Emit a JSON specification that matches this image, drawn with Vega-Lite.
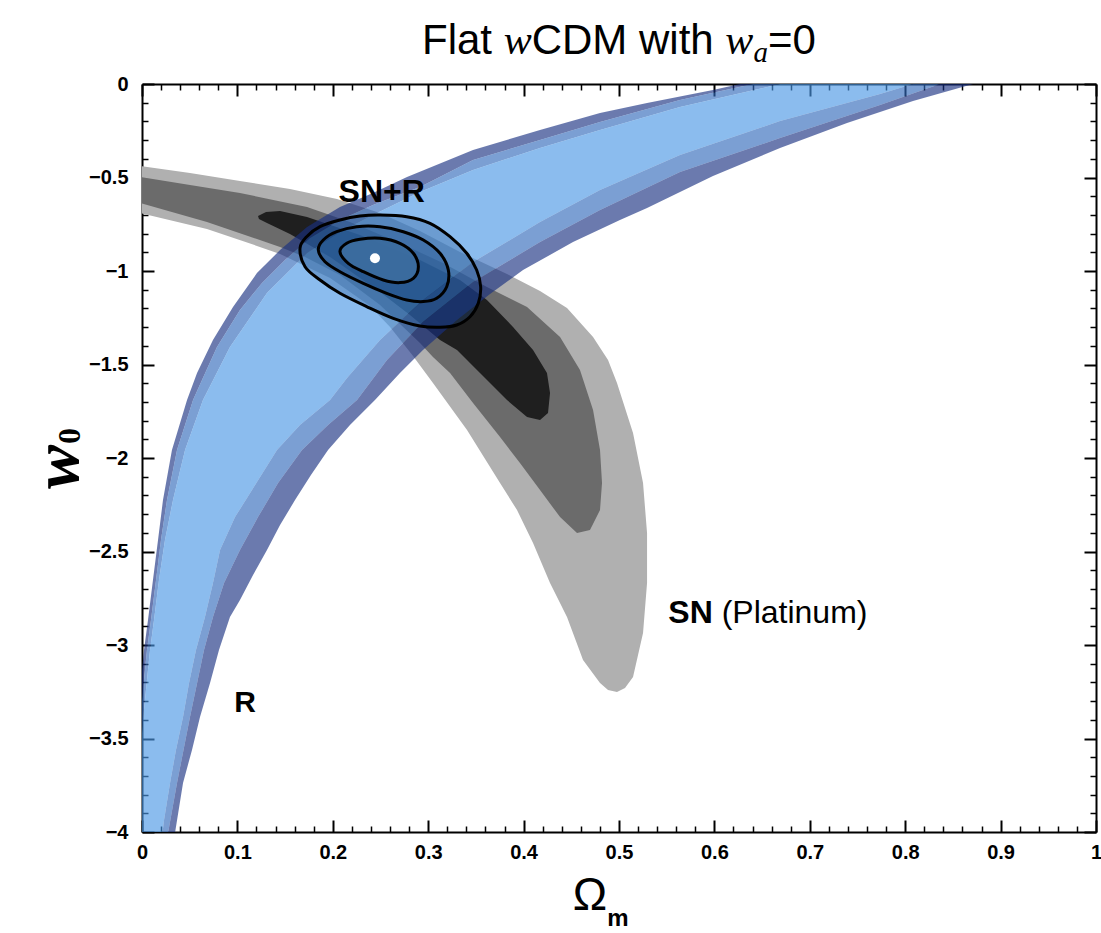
{
"$schema": "https://vega.github.io/schema/vega-lite/v6.json",
"width": 954, "height": 748,
"autosize": {"type": "none"},
"padding": {"left": 142, "top": 84, "right": 5, "bottom": 101},
"background": "white",
"config": {
  "view": {"stroke": null, "fill": "white"},
  "axis": {"zindex": 1, "grid": false, "domain": false, "labelFont": "Liberation Sans", "labelFontSize": 20, "labelFontWeight": "bold", "labelColor": "black", "tickColor": "black", "labelFlush": false, "labelOverlap": false, "labelBound": false, "title": null}
},
"datasets": {
"SN3": [{"o":1,"x":-0.0178,"y":-0.433},{"o":2,"x":-0.0021,"y":-0.439},{"o":3,"x":0.0503,"y":-0.476},{"o":4,"x":0.1027,"y":-0.519},{"o":5,"x":0.1551,"y":-0.561},{"o":6,"x":0.2044,"y":-0.615},{"o":7,"x":0.2495,"y":-0.690},{"o":8,"x":0.2914,"y":-0.786},{"o":9,"x":0.3333,"y":-0.898},{"o":10,"x":0.3826,"y":-1.016},{"o":11,"x":0.4172,"y":-1.107},{"o":12,"x":0.4455,"y":-1.198},{"o":13,"x":0.4728,"y":-1.353},{"o":14,"x":0.4885,"y":-1.476},{"o":15,"x":0.4979,"y":-1.599},{"o":16,"x":0.5147,"y":-1.866},{"o":17,"x":0.5252,"y":-2.134},{"o":18,"x":0.5294,"y":-2.401},{"o":19,"x":0.5294,"y":-2.668},{"o":20,"x":0.5252,"y":-2.936},{"o":21,"x":0.5147,"y":-3.171},{"o":22,"x":0.5063,"y":-3.230},{"o":23,"x":0.4979,"y":-3.251},{"o":24,"x":0.4885,"y":-3.241},{"o":25,"x":0.4801,"y":-3.203},{"o":26,"x":0.4623,"y":-3.080},{"o":27,"x":0.4455,"y":-2.850},{"o":28,"x":0.4277,"y":-2.668},{"o":29,"x":0.4099,"y":-2.455},{"o":30,"x":0.3931,"y":-2.278},{"o":31,"x":0.3753,"y":-2.134},{"o":32,"x":0.3407,"y":-1.850},{"o":33,"x":0.3050,"y":-1.599},{"o":34,"x":0.2841,"y":-1.455},{"o":35,"x":0.2600,"y":-1.299},{"o":36,"x":0.2390,"y":-1.187},{"o":37,"x":0.1971,"y":-1.037},{"o":38,"x":0.1447,"y":-0.909},{"o":39,"x":0.1205,"y":-0.866},{"o":40,"x":0.0681,"y":-0.775},{"o":41,"x":-0.0021,"y":-0.690},{"o":42,"x":-0.0178,"y":-0.684}],
"SN2": [{"o":1,"x":-0.0178,"y":-0.492},{"o":2,"x":-0.0021,"y":-0.497},{"o":3,"x":0.0503,"y":-0.540},{"o":4,"x":0.1027,"y":-0.583},{"o":5,"x":0.1730,"y":-0.658},{"o":6,"x":0.2180,"y":-0.738},{"o":7,"x":0.2704,"y":-0.850},{"o":8,"x":0.3176,"y":-0.963},{"o":9,"x":0.3616,"y":-1.086},{"o":10,"x":0.4036,"y":-1.193},{"o":11,"x":0.4382,"y":-1.353},{"o":12,"x":0.4591,"y":-1.529},{"o":13,"x":0.4728,"y":-1.743},{"o":14,"x":0.4801,"y":-1.957},{"o":15,"x":0.4822,"y":-2.134},{"o":16,"x":0.4801,"y":-2.278},{"o":17,"x":0.4696,"y":-2.385},{"o":18,"x":0.4560,"y":-2.401},{"o":19,"x":0.4382,"y":-2.316},{"o":20,"x":0.4172,"y":-2.171},{"o":21,"x":0.3962,"y":-2.027},{"o":22,"x":0.3753,"y":-1.888},{"o":23,"x":0.3470,"y":-1.706},{"o":24,"x":0.3229,"y":-1.545},{"o":25,"x":0.3050,"y":-1.460},{"o":26,"x":0.2914,"y":-1.385},{"o":27,"x":0.2495,"y":-1.182},{"o":28,"x":0.2075,"y":-1.021},{"o":29,"x":0.1709,"y":-0.925},{"o":30,"x":0.1447,"y":-0.872},{"o":31,"x":0.1205,"y":-0.829},{"o":32,"x":0.0681,"y":-0.738},{"o":33,"x":-0.0021,"y":-0.636},{"o":34,"x":-0.0178,"y":-0.631}],
"SN1": [{"o":1,"x":0.1216,"y":-0.706},{"o":2,"x":0.1300,"y":-0.684},{"o":3,"x":0.1447,"y":-0.679},{"o":4,"x":0.1730,"y":-0.711},{"o":5,"x":0.2285,"y":-0.807},{"o":6,"x":0.2914,"y":-0.941},{"o":7,"x":0.3333,"y":-1.048},{"o":8,"x":0.3616,"y":-1.155},{"o":9,"x":0.3889,"y":-1.299},{"o":10,"x":0.4099,"y":-1.422},{"o":11,"x":0.4245,"y":-1.545},{"o":12,"x":0.4277,"y":-1.652},{"o":13,"x":0.4256,"y":-1.759},{"o":14,"x":0.4172,"y":-1.797},{"o":15,"x":0.4036,"y":-1.781},{"o":16,"x":0.3826,"y":-1.690},{"o":17,"x":0.3543,"y":-1.545},{"o":18,"x":0.3302,"y":-1.422},{"o":19,"x":0.3124,"y":-1.369},{"o":20,"x":0.2809,"y":-1.235},{"o":21,"x":0.2495,"y":-1.112},{"o":22,"x":0.1971,"y":-0.925},{"o":23,"x":0.1551,"y":-0.802},{"o":24,"x":0.1310,"y":-0.743},{"o":25,"x":0.1226,"y":-0.722}],
"S3u": [{"o":1,"x":-0.0189,"y":-4.070},{"o":2,"x":-0.0147,"y":-3.829},{"o":3,"x":-0.0105,"y":-3.615},{"o":4,"x":-0.0052,"y":-3.401},{"o":5,"x":-0.0010,"y":-3.187},{"o":6,"x":0.0021,"y":-3.027},{"o":7,"x":0.0063,"y":-2.866},{"o":8,"x":0.0115,"y":-2.652},{"o":9,"x":0.0168,"y":-2.439},{"o":10,"x":0.0220,"y":-2.225},{"o":11,"x":0.0314,"y":-1.957},{"o":12,"x":0.0472,"y":-1.690},{"o":13,"x":0.0577,"y":-1.545},{"o":14,"x":0.0744,"y":-1.369},{"o":15,"x":0.0954,"y":-1.193},{"o":16,"x":0.1205,"y":-1.011},{"o":17,"x":0.1447,"y":-0.888},{"o":18,"x":0.1730,"y":-0.765},{"o":19,"x":0.2075,"y":-0.658},{"o":20,"x":0.2421,"y":-0.583},{"o":21,"x":0.2778,"y":-0.497},{"o":22,"x":0.3470,"y":-0.353},{"o":23,"x":0.4172,"y":-0.246},{"o":24,"x":0.4801,"y":-0.155},{"o":25,"x":0.5294,"y":-0.102},{"o":26,"x":0.5985,"y":-0.032},{"o":27,"x":0.6268,"y":0},{"o":28,"x":0.6646,"y":0.043},{"o":29,"x":0.6740,"y":0.043},{"o":30,"x":0.6405,"y":0},{"o":31,"x":0.5639,"y":-0.086},{"o":32,"x":0.4801,"y":-0.203},{"o":33,"x":0.4172,"y":-0.299},{"o":34,"x":0.3470,"y":-0.406},{"o":35,"x":0.2914,"y":-0.551},{"o":36,"x":0.2421,"y":-0.647},{"o":37,"x":0.2075,"y":-0.727},{"o":38,"x":0.1761,"y":-0.824},{"o":39,"x":0.1499,"y":-0.941},{"o":40,"x":0.1258,"y":-1.064},{"o":41,"x":0.1027,"y":-1.209},{"o":42,"x":0.0786,"y":-1.406},{"o":43,"x":0.0629,"y":-1.583},{"o":44,"x":0.0535,"y":-1.690},{"o":45,"x":0.0367,"y":-1.957},{"o":46,"x":0.0262,"y":-2.225},{"o":47,"x":0.0199,"y":-2.439},{"o":48,"x":0.0147,"y":-2.652},{"o":49,"x":0.0094,"y":-2.866},{"o":50,"x":0.0052,"y":-3.027},{"o":51,"x":0.0021,"y":-3.187},{"o":52,"x":-0.0021,"y":-3.401},{"o":53,"x":-0.0063,"y":-3.615},{"o":54,"x":-0.0105,"y":-3.829},{"o":55,"x":-0.0147,"y":-4.070}],
"S2u": [{"o":1,"x":-0.0147,"y":-4.070},{"o":2,"x":-0.0105,"y":-3.829},{"o":3,"x":-0.0063,"y":-3.615},{"o":4,"x":-0.0021,"y":-3.401},{"o":5,"x":0.0021,"y":-3.187},{"o":6,"x":0.0052,"y":-3.027},{"o":7,"x":0.0094,"y":-2.866},{"o":8,"x":0.0147,"y":-2.652},{"o":9,"x":0.0199,"y":-2.439},{"o":10,"x":0.0262,"y":-2.225},{"o":11,"x":0.0367,"y":-1.957},{"o":12,"x":0.0535,"y":-1.690},{"o":13,"x":0.0629,"y":-1.583},{"o":14,"x":0.0786,"y":-1.406},{"o":15,"x":0.1027,"y":-1.209},{"o":16,"x":0.1258,"y":-1.064},{"o":17,"x":0.1499,"y":-0.941},{"o":18,"x":0.1761,"y":-0.824},{"o":19,"x":0.2075,"y":-0.727},{"o":20,"x":0.2421,"y":-0.647},{"o":21,"x":0.2914,"y":-0.551},{"o":22,"x":0.3470,"y":-0.406},{"o":23,"x":0.4172,"y":-0.299},{"o":24,"x":0.4801,"y":-0.203},{"o":25,"x":0.5639,"y":-0.086},{"o":26,"x":0.6405,"y":0},{"o":27,"x":0.6740,"y":0.043},{"o":28,"x":0.7023,"y":0.043},{"o":29,"x":0.6688,"y":0},{"o":30,"x":0.5639,"y":-0.123},{"o":31,"x":0.4801,"y":-0.246},{"o":32,"x":0.4172,"y":-0.342},{"o":33,"x":0.3470,"y":-0.460},{"o":34,"x":0.2914,"y":-0.578},{"o":35,"x":0.2421,"y":-0.701},{"o":36,"x":0.2075,"y":-0.791},{"o":37,"x":0.1730,"y":-0.904},{"o":38,"x":0.1310,"y":-1.118},{"o":39,"x":0.0922,"y":-1.406},{"o":40,"x":0.0639,"y":-1.690},{"o":41,"x":0.0451,"y":-1.957},{"o":42,"x":0.0325,"y":-2.225},{"o":43,"x":0.0241,"y":-2.439},{"o":44,"x":0.0178,"y":-2.652},{"o":45,"x":0.0126,"y":-2.866},{"o":46,"x":0.0084,"y":-3.027},{"o":47,"x":0.0052,"y":-3.187},{"o":48,"x":0.0010,"y":-3.401},{"o":49,"x":-0.0021,"y":-3.615},{"o":50,"x":-0.0063,"y":-3.829},{"o":51,"x":-0.0105,"y":-4.070}],
"S1": [{"o":1,"x":-0.0105,"y":-4.070},{"o":2,"x":-0.0063,"y":-3.829},{"o":3,"x":-0.0021,"y":-3.615},{"o":4,"x":0.0010,"y":-3.401},{"o":5,"x":0.0052,"y":-3.187},{"o":6,"x":0.0084,"y":-3.027},{"o":7,"x":0.0126,"y":-2.866},{"o":8,"x":0.0178,"y":-2.652},{"o":9,"x":0.0241,"y":-2.439},{"o":10,"x":0.0325,"y":-2.225},{"o":11,"x":0.0451,"y":-1.957},{"o":12,"x":0.0639,"y":-1.690},{"o":13,"x":0.0922,"y":-1.406},{"o":14,"x":0.1310,"y":-1.118},{"o":15,"x":0.1730,"y":-0.904},{"o":16,"x":0.2075,"y":-0.791},{"o":17,"x":0.2421,"y":-0.701},{"o":18,"x":0.2914,"y":-0.578},{"o":19,"x":0.3470,"y":-0.460},{"o":20,"x":0.4172,"y":-0.342},{"o":21,"x":0.4801,"y":-0.246},{"o":22,"x":0.5639,"y":-0.123},{"o":23,"x":0.6688,"y":0},{"o":24,"x":0.7023,"y":0.043},{"o":25,"x":0.8365,"y":0.037},{"o":26,"x":0.8082,"y":0},{"o":27,"x":0.7736,"y":-0.053},{"o":28,"x":0.6688,"y":-0.198},{"o":29,"x":0.5639,"y":-0.380},{"o":30,"x":0.4801,"y":-0.567},{"o":31,"x":0.4172,"y":-0.738},{"o":32,"x":0.3470,"y":-0.952},{"o":33,"x":0.2945,"y":-1.155},{"o":34,"x":0.2495,"y":-1.369},{"o":35,"x":0.2149,"y":-1.572},{"o":36,"x":0.1971,"y":-1.690},{"o":37,"x":0.1656,"y":-1.824},{"o":38,"x":0.1415,"y":-1.957},{"o":39,"x":0.1153,"y":-2.171},{"o":40,"x":0.0975,"y":-2.316},{"o":41,"x":0.0818,"y":-2.492},{"o":42,"x":0.0744,"y":-2.668},{"o":43,"x":0.0660,"y":-2.850},{"o":44,"x":0.0566,"y":-3.027},{"o":45,"x":0.0493,"y":-3.203},{"o":46,"x":0.0430,"y":-3.385},{"o":47,"x":0.0356,"y":-3.561},{"o":48,"x":0.0294,"y":-3.738},{"o":49,"x":0.0231,"y":-3.936},{"o":50,"x":0.0199,"y":-4.070}],
"S2l": [{"o":1,"x":0.0199,"y":-4.070},{"o":2,"x":0.0231,"y":-3.936},{"o":3,"x":0.0294,"y":-3.738},{"o":4,"x":0.0356,"y":-3.561},{"o":5,"x":0.0430,"y":-3.385},{"o":6,"x":0.0493,"y":-3.203},{"o":7,"x":0.0566,"y":-3.027},{"o":8,"x":0.0660,"y":-2.850},{"o":9,"x":0.0744,"y":-2.668},{"o":10,"x":0.0818,"y":-2.492},{"o":11,"x":0.0975,"y":-2.316},{"o":12,"x":0.1153,"y":-2.171},{"o":13,"x":0.1415,"y":-1.957},{"o":14,"x":0.1656,"y":-1.824},{"o":15,"x":0.1971,"y":-1.690},{"o":16,"x":0.2149,"y":-1.572},{"o":17,"x":0.2495,"y":-1.369},{"o":18,"x":0.2945,"y":-1.155},{"o":19,"x":0.3470,"y":-0.952},{"o":20,"x":0.4172,"y":-0.738},{"o":21,"x":0.4801,"y":-0.567},{"o":22,"x":0.5639,"y":-0.380},{"o":23,"x":0.6688,"y":-0.198},{"o":24,"x":0.7736,"y":-0.053},{"o":25,"x":0.8082,"y":0},{"o":26,"x":0.8365,"y":0.037},{"o":27,"x":0.8627,"y":0.037},{"o":28,"x":0.8365,"y":0},{"o":29,"x":0.7736,"y":-0.112},{"o":30,"x":0.6688,"y":-0.289},{"o":31,"x":0.5639,"y":-0.471},{"o":32,"x":0.4801,"y":-0.674},{"o":33,"x":0.4172,"y":-0.845},{"o":34,"x":0.3470,"y":-1.059},{"o":35,"x":0.2945,"y":-1.273},{"o":36,"x":0.2568,"y":-1.476},{"o":37,"x":0.2254,"y":-1.690},{"o":38,"x":0.1950,"y":-1.824},{"o":39,"x":0.1677,"y":-1.957},{"o":40,"x":0.1426,"y":-2.134},{"o":41,"x":0.1216,"y":-2.316},{"o":42,"x":0.1027,"y":-2.492},{"o":43,"x":0.0860,"y":-2.668},{"o":44,"x":0.0744,"y":-2.850},{"o":45,"x":0.0650,"y":-3.027},{"o":46,"x":0.0503,"y":-3.385},{"o":47,"x":0.0367,"y":-3.738},{"o":48,"x":0.0273,"y":-4.005},{"o":49,"x":0.0252,"y":-4.070}],
"S3l": [{"o":1,"x":0.0252,"y":-4.070},{"o":2,"x":0.0273,"y":-4.005},{"o":3,"x":0.0367,"y":-3.738},{"o":4,"x":0.0503,"y":-3.385},{"o":5,"x":0.0650,"y":-3.027},{"o":6,"x":0.0744,"y":-2.850},{"o":7,"x":0.0860,"y":-2.668},{"o":8,"x":0.1027,"y":-2.492},{"o":9,"x":0.1216,"y":-2.316},{"o":10,"x":0.1426,"y":-2.134},{"o":11,"x":0.1677,"y":-1.957},{"o":12,"x":0.1950,"y":-1.824},{"o":13,"x":0.2254,"y":-1.690},{"o":14,"x":0.2568,"y":-1.476},{"o":15,"x":0.2945,"y":-1.273},{"o":16,"x":0.3470,"y":-1.059},{"o":17,"x":0.4172,"y":-0.845},{"o":18,"x":0.4801,"y":-0.674},{"o":19,"x":0.5639,"y":-0.471},{"o":20,"x":0.6688,"y":-0.289},{"o":21,"x":0.7736,"y":-0.112},{"o":22,"x":0.8365,"y":0},{"o":23,"x":0.8627,"y":0.037},{"o":24,"x":0.8994,"y":0.037},{"o":25,"x":0.8711,"y":0},{"o":26,"x":0.8082,"y":-0.091},{"o":27,"x":0.7390,"y":-0.209},{"o":28,"x":0.6688,"y":-0.342},{"o":29,"x":0.5985,"y":-0.492},{"o":30,"x":0.5294,"y":-0.663},{"o":31,"x":0.5010,"y":-0.727},{"o":32,"x":0.4518,"y":-0.845},{"o":33,"x":0.3994,"y":-0.995},{"o":34,"x":0.3648,"y":-1.123},{"o":35,"x":0.3302,"y":-1.262},{"o":36,"x":0.2945,"y":-1.422},{"o":37,"x":0.2704,"y":-1.545},{"o":38,"x":0.2442,"y":-1.690},{"o":39,"x":0.2180,"y":-1.824},{"o":40,"x":0.1950,"y":-1.957},{"o":41,"x":0.1771,"y":-2.091},{"o":42,"x":0.1604,"y":-2.225},{"o":43,"x":0.1447,"y":-2.358},{"o":44,"x":0.1310,"y":-2.492},{"o":45,"x":0.1164,"y":-2.626},{"o":46,"x":0.1027,"y":-2.759},{"o":47,"x":0.0922,"y":-2.850},{"o":48,"x":0.0807,"y":-3.027},{"o":49,"x":0.0713,"y":-3.203},{"o":50,"x":0.0608,"y":-3.385},{"o":51,"x":0.0524,"y":-3.561},{"o":52,"x":0.0430,"y":-3.738},{"o":53,"x":0.0346,"y":-4.005},{"o":54,"x":0.0314,"y":-4.070}],
"EO": [{"o":1,"x":0.1656,"y":-0.8786},{"o":2,"x":0.1726,"y":-0.8166},{"o":3,"x":0.1866,"y":-0.7631},{"o":4,"x":0.2075,"y":-0.7273},{"o":5,"x":0.2285,"y":-0.7059},{"o":6,"x":0.2495,"y":-0.7005},{"o":7,"x":0.2775,"y":-0.7096},{"o":8,"x":0.3019,"y":-0.7449},{"o":9,"x":0.3229,"y":-0.8166},{"o":10,"x":0.3404,"y":-0.9053},{"o":11,"x":0.3508,"y":-0.9947},{"o":12,"x":0.3550,"y":-1.0840},{"o":13,"x":0.3525,"y":-1.1727},{"o":14,"x":0.3438,"y":-1.2444},{"o":15,"x":0.3299,"y":-1.2888},{"o":16,"x":0.3124,"y":-1.3011},{"o":17,"x":0.2914,"y":-1.2941},{"o":18,"x":0.2634,"y":-1.2529},{"o":19,"x":0.2355,"y":-1.1904},{"o":20,"x":0.2075,"y":-1.1193},{"o":21,"x":0.1866,"y":-1.0481},{"o":22,"x":0.1709,"y":-0.9770}],
"EM": [{"o":1,"x":0.1848,"y":-0.8877},{"o":2,"x":0.1900,"y":-0.8342},{"o":3,"x":0.2041,"y":-0.7898},{"o":4,"x":0.2251,"y":-0.7631},{"o":5,"x":0.2495,"y":-0.7631},{"o":6,"x":0.2739,"y":-0.7898},{"o":7,"x":0.2949,"y":-0.8342},{"o":8,"x":0.3124,"y":-0.9053},{"o":9,"x":0.3211,"y":-0.9947},{"o":10,"x":0.3194,"y":-1.0840},{"o":11,"x":0.3089,"y":-1.1460},{"o":12,"x":0.2949,"y":-1.1636},{"o":13,"x":0.2775,"y":-1.1551},{"o":14,"x":0.2565,"y":-1.1193},{"o":15,"x":0.2320,"y":-1.0658},{"o":16,"x":0.2075,"y":-1.0037},{"o":17,"x":0.1918,"y":-0.9503}],
"EI": [{"o":1,"x":0.2075,"y":-0.8968},{"o":2,"x":0.2146,"y":-0.8519},{"o":3,"x":0.2285,"y":-0.8305},{"o":4,"x":0.2495,"y":-0.8251},{"o":5,"x":0.2704,"y":-0.8519},{"o":6,"x":0.2844,"y":-0.9053},{"o":7,"x":0.2897,"y":-0.9770},{"o":8,"x":0.2844,"y":-1.0390},{"o":9,"x":0.2704,"y":-1.0620},{"o":10,"x":0.2529,"y":-1.0481},{"o":11,"x":0.2320,"y":-1.0037},{"o":12,"x":0.2162,"y":-0.9588}]
},
"encoding": {
  "x": {"field": "x", "type": "quantitative", "scale": {"domain": [0, 1], "nice": false, "zero": false}, "axis": null},
  "y": {"field": "y", "type": "quantitative", "scale": {"domain": [-4, 0], "nice": false, "zero": false}, "axis": null}
},
"resolve": {"axis": {"x": "independent", "y": "independent"}},
"layer": [
  {"data": {"name": "SN3"}, "mark": {"type": "line", "interpolate": "linear-closed", "fill": "#b0b0b0", "strokeWidth": 0, "strokeOpacity": 0, "clip": true},
   "encoding": {
     "x": {"field": "x", "type": "quantitative", "scale": {"domain": [0, 1], "nice": false, "zero": false}, "axis": {"orient": "bottom", "values": [0,0.1,0.2,0.3,0.4,0.5,0.6,0.7,0.8,0.9,1], "format": "~g", "tickSize": -12, "tickWidth": 2, "labelPadding": 22, "domain": true, "domainWidth": 2, "domainColor": "black"}},
     "y": {"field": "y", "type": "quantitative", "scale": {"domain": [-4, 0], "nice": false, "zero": false}, "axis": {"orient": "left", "values": [0,-0.5,-1,-1.5,-2,-2.5,-3,-3.5,-4], "format": "~g", "tickSize": -12, "tickWidth": 2, "labelPadding": 26, "domain": true, "domainWidth": 2, "domainColor": "black"}},
     "order": {"field": "o", "type": "quantitative"}}},
  {"data": {"name": "SN2"}, "mark": {"type": "line", "interpolate": "linear-closed", "fill": "#6b6b6b", "strokeWidth": 0, "strokeOpacity": 0, "clip": true},
   "encoding": {
     "x": {"field": "x", "type": "quantitative", "scale": {"domain": [0, 1], "nice": false, "zero": false}, "axis": {"orient": "bottom", "values": [0.02,0.04,0.06,0.08,0.12,0.14,0.16,0.18,0.22,0.24,0.26,0.28,0.32,0.34,0.36,0.38,0.42,0.44,0.46,0.48,0.52,0.54,0.56,0.58,0.62,0.64,0.66,0.68,0.72,0.74,0.76,0.78,0.82,0.84,0.86,0.88,0.92,0.94,0.96,0.98], "labels": false, "tickSize": -6, "tickWidth": 1.5}},
     "y": {"field": "y", "type": "quantitative", "scale": {"domain": [-4, 0], "nice": false, "zero": false}, "axis": {"orient": "left", "values": [-0.1,-0.2,-0.3,-0.4,-0.6,-0.7,-0.8,-0.9,-1.1,-1.2,-1.3,-1.4,-1.6,-1.7,-1.8,-1.9,-2.1,-2.2,-2.3,-2.4,-2.6,-2.7,-2.8,-2.9,-3.1,-3.2,-3.3,-3.4,-3.6,-3.7,-3.8,-3.9], "labels": false, "tickSize": -6, "tickWidth": 1.5}},
     "order": {"field": "o", "type": "quantitative"}}},
  {"data": {"name": "SN1"}, "mark": {"type": "line", "interpolate": "linear-closed", "fill": "#1f1f1f", "strokeWidth": 0, "strokeOpacity": 0, "clip": true},
   "encoding": {
     "x": {"field": "x", "type": "quantitative", "scale": {"domain": [0, 1], "nice": false, "zero": false}, "axis": {"orient": "top", "values": [0,0.1,0.2,0.3,0.4,0.5,0.6,0.7,0.8,0.9,1], "labels": false, "tickSize": -12, "tickWidth": 2, "domain": true, "domainWidth": 2, "domainColor": "black"}},
     "y": {"field": "y", "type": "quantitative", "scale": {"domain": [-4, 0], "nice": false, "zero": false}, "axis": {"orient": "right", "values": [0,-0.5,-1,-1.5,-2,-2.5,-3,-3.5,-4], "labels": false, "tickSize": -12, "tickWidth": 2, "domain": true, "domainWidth": 2, "domainColor": "black"}},
     "order": {"field": "o", "type": "quantitative"}}},
  {"data": {"name": "S3u"}, "mark": {"type": "line", "interpolate": "linear-closed", "fill": "#172f80", "fillOpacity": 0.64, "strokeWidth": 0, "strokeOpacity": 0, "clip": true},
   "encoding": {
     "x": {"field": "x", "type": "quantitative", "scale": {"domain": [0, 1], "nice": false, "zero": false}, "axis": {"orient": "top", "values": [0.02,0.04,0.06,0.08,0.12,0.14,0.16,0.18,0.22,0.24,0.26,0.28,0.32,0.34,0.36,0.38,0.42,0.44,0.46,0.48,0.52,0.54,0.56,0.58,0.62,0.64,0.66,0.68,0.72,0.74,0.76,0.78,0.82,0.84,0.86,0.88,0.92,0.94,0.96,0.98], "labels": false, "tickSize": -6, "tickWidth": 1.5}},
     "y": {"field": "y", "type": "quantitative", "scale": {"domain": [-4, 0], "nice": false, "zero": false}, "axis": {"orient": "right", "values": [-0.1,-0.2,-0.3,-0.4,-0.6,-0.7,-0.8,-0.9,-1.1,-1.2,-1.3,-1.4,-1.6,-1.7,-1.8,-1.9,-2.1,-2.2,-2.3,-2.4,-2.6,-2.7,-2.8,-2.9,-3.1,-3.2,-3.3,-3.4,-3.6,-3.7,-3.8,-3.9], "labels": false, "tickSize": -6, "tickWidth": 1.5}},
     "order": {"field": "o", "type": "quantitative"}}},
  {"data": {"name": "S2u"}, "mark": {"type": "line", "interpolate": "linear-closed", "fill": "#3069ba", "fillOpacity": 0.64, "strokeWidth": 0, "strokeOpacity": 0, "clip": true},
   "encoding": {"order": {"field": "o", "type": "quantitative"}}},
  {"data": {"name": "S1"}, "mark": {"type": "line", "interpolate": "linear-closed", "fill": "#4996e4", "fillOpacity": 0.64, "strokeWidth": 0, "strokeOpacity": 0, "clip": true},
   "encoding": {"order": {"field": "o", "type": "quantitative"}}},
  {"data": {"name": "S2l"}, "mark": {"type": "line", "interpolate": "linear-closed", "fill": "#3069ba", "fillOpacity": 0.64, "strokeWidth": 0, "strokeOpacity": 0, "clip": true},
   "encoding": {"order": {"field": "o", "type": "quantitative"}}},
  {"data": {"name": "S3l"}, "mark": {"type": "line", "interpolate": "linear-closed", "fill": "#172f80", "fillOpacity": 0.64, "strokeWidth": 0, "strokeOpacity": 0, "clip": true},
   "encoding": {"order": {"field": "o", "type": "quantitative"}}},
  {"data": {"name": "EO"}, "mark": {"type": "line", "interpolate": "cardinal-closed", "fill": "#1d4a88", "fillOpacity": 0.28, "stroke": "black", "strokeWidth": 3, "clip": true},
   "encoding": {"order": {"field": "o", "type": "quantitative"}}},
  {"data": {"name": "EM"}, "mark": {"type": "line", "interpolate": "cardinal-closed", "fill": "#1d4a88", "fillOpacity": 0.35, "stroke": "black", "strokeWidth": 3, "clip": true},
   "encoding": {"order": {"field": "o", "type": "quantitative"}}},
  {"data": {"name": "EI"}, "mark": {"type": "line", "interpolate": "cardinal-closed", "fill": "#3c6c9f", "fillOpacity": 0.92, "stroke": "black", "strokeWidth": 3, "clip": true},
   "encoding": {"order": {"field": "o", "type": "quantitative"}}},
  {"data": {"values": [{"x": 0.2442, "y": -0.932}]}, "mark": {"type": "point", "filled": true, "fill": "white", "opacity": 1, "size": 100, "strokeWidth": 0}},
  {"data": {"values": [{"t": "SN+R", "x": 0.2513, "y": -0.629}]}, "mark": {"type": "text", "font": "Liberation Sans", "fontSize": 32, "fontWeight": "bold", "align": "center", "baseline": "alphabetic", "color": "black"}, "encoding": {"text": {"field": "t"}}},
  {"data": {"values": [{"t": "R", "x": 0.108, "y": -3.357}]}, "mark": {"type": "text", "font": "Liberation Sans", "fontSize": 30, "fontWeight": "bold", "align": "center", "baseline": "alphabetic", "color": "black"}, "encoding": {"text": {"field": "t"}}},
  {"data": {"values": [{"t": "SN", "x": 0.5517, "y": -2.884}]}, "mark": {"type": "text", "font": "Liberation Sans", "fontSize": 32, "fontWeight": "bold", "align": "left", "baseline": "alphabetic", "color": "black"}, "encoding": {"text": {"field": "t"}}},
  {"data": {"values": [{"t": "(Platinum)", "x": 0.6076, "y": -2.884}]}, "mark": {"type": "text", "font": "Liberation Sans", "fontSize": 32, "align": "left", "baseline": "alphabetic", "color": "black"}, "encoding": {"text": {"field": "t"}}},
  {"data": {"values": [{"t": "Flat", "x": 0.2935, "y": 0.160}, {"t": "CDM", "x": 0.4085, "y": 0.160}, {"t": "with", "x": 0.5210, "y": 0.160}, {"t": "=0", "x": 0.6561, "y": 0.160}]}, "mark": {"type": "text", "font": "Liberation Sans", "fontSize": 42, "align": "left", "baseline": "alphabetic", "color": "black"}, "encoding": {"text": {"field": "t"}}},
  {"data": {"values": [{"t": "w", "x": 0.3791, "y": 0.160}, {"t": "w", "x": 0.6115, "y": 0.160}]}, "mark": {"type": "text", "font": "Liberation Serif", "fontStyle": "italic", "fontSize": 42, "align": "left", "baseline": "alphabetic", "color": "black"}, "encoding": {"text": {"field": "t"}}},
  {"data": {"values": [{"t": "a", "x": 0.6409, "y": 0.118}]}, "mark": {"type": "text", "font": "Liberation Serif", "fontStyle": "italic", "fontSize": 29, "align": "left", "baseline": "alphabetic", "color": "black"}, "encoding": {"text": {"field": "t"}}},
  {"data": {"values": [{"t": "w", "x": -0.0671, "y": -2.048}]}, "mark": {"type": "text", "font": "Liberation Serif", "fontStyle": "italic", "fontWeight": "bold", "fontSize": 66, "angle": 270, "align": "center", "baseline": "alphabetic", "color": "black"}, "encoding": {"text": {"field": "t"}}},
  {"data": {"values": [{"t": "0", "x": -0.065, "y": -1.882}]}, "mark": {"type": "text", "font": "Liberation Serif", "fontWeight": "bold", "fontSize": 32, "angle": 270, "align": "center", "baseline": "alphabetic", "color": "black"}, "encoding": {"text": {"field": "t"}}},
  {"data": {"values": [{"t": "Ω", "x": 0.4696, "y": -4.417}]}, "mark": {"type": "text", "font": "Liberation Sans", "fontSize": 46, "align": "center", "baseline": "alphabetic", "color": "black"}, "encoding": {"text": {"field": "t"}}},
  {"data": {"values": [{"t": "m", "x": 0.4990, "y": -4.503}]}, "mark": {"type": "text", "font": "Liberation Sans", "fontWeight": "bold", "fontSize": 24, "align": "center", "baseline": "alphabetic", "color": "black"}, "encoding": {"text": {"field": "t"}}}
]
}
